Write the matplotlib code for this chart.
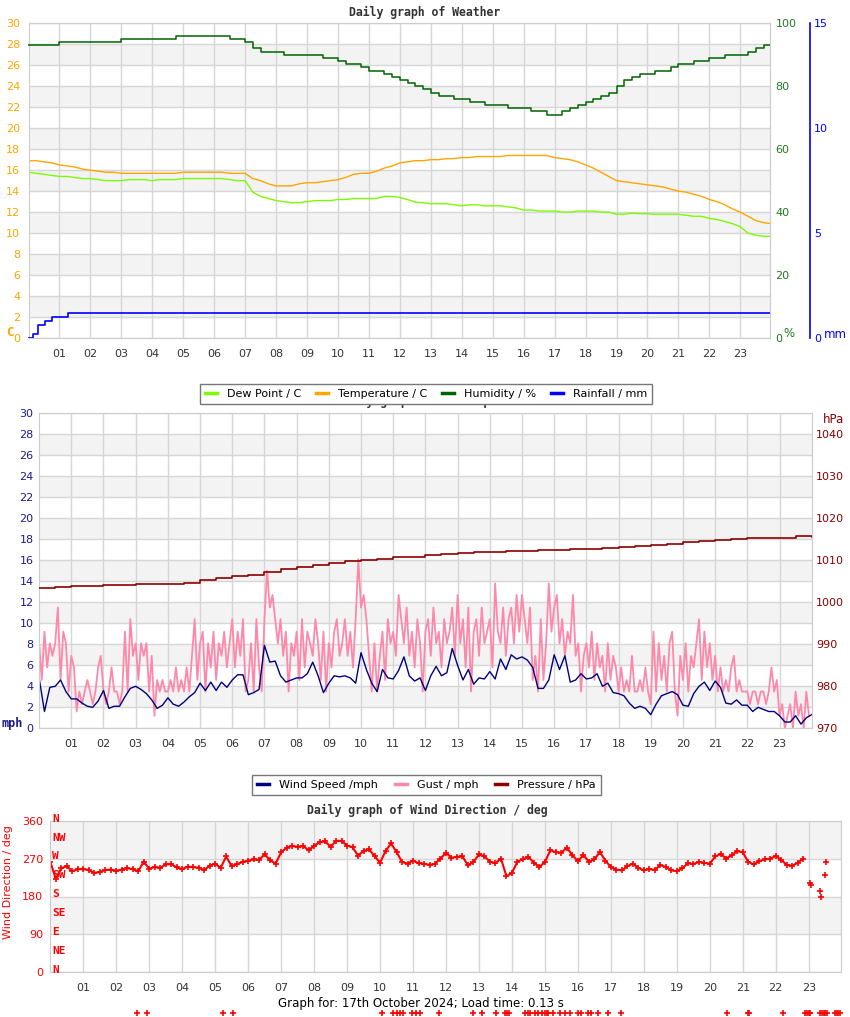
import numpy as np
import matplotlib
matplotlib.use('Agg')
import matplotlib.pyplot as plt
from matplotlib.lines import Line2D

# weather, one value every 15 minutes from 00:00
temperature = [
    16.9, 16.9, 16.8, 16.7, 16.5, 16.4, 16.3, 16.1, 16.0, 15.9, 15.8, 15.8,
    15.7, 15.7, 15.7, 15.7, 15.7, 15.7, 15.7, 15.7, 15.8, 15.8, 15.8, 15.8,
    15.8, 15.8, 15.7, 15.7, 15.7, 15.2, 15.0, 14.7, 14.5, 14.5, 14.5, 14.7,
    14.8, 14.8, 14.9, 15.0, 15.1, 15.3, 15.6, 15.7, 15.7, 15.9, 16.2, 16.4,
    16.7, 16.8, 16.9, 16.9, 17.0, 17.0, 17.1, 17.1, 17.2, 17.2, 17.3, 17.3,
    17.3, 17.3, 17.4, 17.4, 17.4, 17.4, 17.4, 17.4, 17.2, 17.1, 17.0, 16.8,
    16.5, 16.2, 15.8, 15.4, 15.0, 14.9, 14.8, 14.7, 14.6, 14.5, 14.4, 14.2,
    14.0, 13.9, 13.7, 13.5, 13.2, 13.0, 12.7, 12.3, 12.0, 11.6, 11.2, 11.0,
    10.9]
dew_point = [
    15.8, 15.7, 15.6, 15.5, 15.4, 15.4, 15.3, 15.2, 15.2, 15.1, 15.0, 15.0,
    15.0, 15.1, 15.1, 15.1, 15.0, 15.1, 15.1, 15.1, 15.2, 15.2, 15.2, 15.2,
    15.2, 15.2, 15.1, 15.0, 15.0, 13.9, 13.5, 13.3, 13.1, 13.0, 12.9, 12.9,
    13.0, 13.1, 13.1, 13.1, 13.2, 13.2, 13.3, 13.3, 13.3, 13.3, 13.5, 13.5,
    13.4, 13.2, 12.95, 12.9, 12.8, 12.8, 12.8, 12.7, 12.6, 12.7, 12.7, 12.6,
    12.6, 12.6, 12.5, 12.4, 12.2, 12.2, 12.1, 12.1, 12.1, 12.0, 12.0, 12.1,
    12.1, 12.1, 12.0, 12.0, 11.8, 11.8, 11.9, 11.85, 11.85, 11.8, 11.8, 11.8,
    11.8, 11.7, 11.6, 11.6, 11.4, 11.3, 11.1, 10.9, 10.6, 10.0, 9.8, 9.7,
    9.7]
humidity = [
    93, 93, 93, 93, 94, 94, 94, 94, 94, 94, 94, 94,
    95, 95, 95, 95, 95, 95, 95, 96, 96, 96, 96, 96,
    96, 96, 95, 95, 94, 92, 91, 91, 91, 90, 90, 90,
    90, 90, 89, 89, 88, 87, 87, 86, 85, 85, 84, 83,
    82, 81, 80, 79, 78, 77, 77, 76, 76, 75, 75, 74,
    74, 74, 73, 73, 73, 72, 72, 71, 71, 72, 73, 74,
    75, 76, 77, 78, 80, 82, 83, 84, 84, 85, 85, 86,
    87, 87, 88, 88, 89, 89, 90, 90, 90, 91, 92, 93,
    92]
rain_hours = [0.0, 0.13, 0.30, 0.52, 0.77, 1.27, 23.96]
rain_mm = [0.0, 0.2, 0.6, 0.8, 1.0, 1.2, 1.2]

# wind speed every 10 minutes (mph)
wind_speed = [
    4.8, 1.6, 3.9, 4.0, 4.6, 3.5,
    2.8, 2.8, 2.4, 2.1, 2.0, 2.6,
    3.6, 1.9, 2.1, 2.1, 3.0, 3.8,
    4.0, 3.7, 3.3, 2.7, 1.9, 2.2,
    2.9, 2.3, 2.1, 2.5, 3.0, 3.4,
    4.3, 3.6, 4.4, 3.6, 4.4, 3.9,
    4.6, 5.1, 5.1, 3.2, 3.4, 3.7,
    7.9, 6.3, 6.4, 5.0, 4.4, 4.6,
    4.8, 4.8, 5.2, 6.3, 5.0, 3.4,
    4.3, 5.0, 4.9, 5.0, 4.8, 4.3,
    7.2, 5.6, 4.3, 3.5, 5.6, 4.8,
    4.7, 5.5, 6.8, 5.0, 4.5, 4.8,
    3.6, 5.0, 5.9, 5.0, 5.3, 7.6,
    6.0, 4.6, 5.6, 4.2, 4.8, 4.7,
    5.4, 4.7, 6.6, 5.6, 7.0, 6.6,
    6.8, 6.5, 5.8, 3.8, 3.8, 4.6,
    7.0, 5.6, 6.9, 4.4, 4.6, 5.2,
    4.7, 4.8, 5.2, 4.0, 4.3, 3.4,
    3.3, 3.1, 2.4, 1.9, 2.1, 1.9,
    1.3, 2.3, 3.1, 3.3, 3.5, 3.2,
    2.2, 2.1, 3.3, 4.0, 4.4, 3.6,
    4.5, 3.9, 2.4, 2.3, 2.7, 2.2,
    2.2, 1.6, 2.0, 1.8, 1.6, 1.6,
    1.2, 0.6, 0.6, 1.2, 0.4, 1.0,
    1.3]
# gust every 5 minutes (mph)
gust = [
    8.1, 4.6, 9.2, 5.8, 8.1, 6.9, 8.1, 11.5, 4.6, 9.2, 8.1, 3.5,
    6.9, 5.8, 1.6, 3.5, 2.3, 3.5, 4.6, 3.5, 2.3, 3.5, 5.8, 6.9,
    3.5, 2.3, 3.5, 5.8, 3.5, 3.5, 2.3, 3.5, 9.2, 3.5, 10.4, 6.9,
    8.1, 4.6, 8.1, 6.9, 8.1, 3.5, 6.9, 1.2, 4.6, 3.5, 4.6, 3.5,
    3.5, 4.6, 3.5, 5.8, 3.5, 4.6, 3.5, 5.8, 3.5, 6.9, 10.4, 4.6,
    8.1, 9.2, 3.5, 8.1, 5.8, 9.2, 4.6, 8.1, 6.9, 9.2, 5.8, 8.1,
    10.4, 5.8, 9.2, 6.9, 10.4, 3.5, 4.6, 8.1, 3.5, 10.4, 5.8, 3.5,
    10.4, 15.0, 11.5, 12.7, 10.4, 8.1, 10.4, 6.9, 9.2, 3.5, 8.1, 6.9,
    9.2, 4.6, 10.4, 5.8, 9.2, 8.1, 6.9, 10.4, 8.1, 4.6, 9.2, 3.5,
    8.1, 5.8, 9.2, 10.4, 6.9, 8.1, 10.4, 6.9, 9.2, 5.8, 10.4, 16.1,
    11.5, 12.7, 10.4, 6.9, 3.5, 8.1, 3.5, 6.9, 9.2, 4.6, 10.4, 8.1,
    9.2, 6.9, 12.7, 10.4, 8.1, 11.5, 6.9, 9.2, 5.8, 10.4, 8.1, 3.5,
    9.2, 10.4, 6.9, 11.5, 8.1, 9.2, 5.8, 10.4, 8.1, 9.2, 11.5, 6.9,
    12.7, 8.1, 10.4, 5.8, 11.5, 3.5, 9.2, 10.4, 6.9, 11.5, 8.1, 9.2,
    10.4, 5.8, 13.8, 9.2, 8.1, 11.5, 6.9, 10.4, 11.5, 8.1, 12.7, 9.2,
    12.7, 10.4, 8.1, 11.5, 4.6, 6.9, 3.5, 10.4, 4.6, 8.1, 13.8, 9.2,
    11.5, 12.7, 8.1, 10.4, 6.9, 9.2, 8.1, 12.7, 6.9, 8.1, 3.5, 6.9,
    8.1, 5.8, 9.2, 4.6, 8.1, 5.8, 6.9, 3.5, 8.1, 4.6, 6.9, 5.8,
    3.5, 5.8, 3.5, 4.6, 3.5, 6.9, 3.5, 3.5, 4.6, 3.5, 5.8, 3.5,
    2.3, 9.2, 3.5, 8.1, 4.6, 6.9, 3.5, 8.1, 9.2, 3.5, 1.2, 6.9,
    4.6, 8.1, 3.5, 6.9, 5.8, 8.1, 10.4, 4.6, 9.2, 5.8, 8.1, 4.6,
    6.9, 3.5, 5.8, 3.5, 4.6, 3.5, 5.8, 6.9, 3.5, 4.6, 3.5, 3.5,
    3.5, 2.3, 3.5, 3.5, 2.3, 3.5, 3.5, 2.3, 3.5, 5.8, 3.5, 4.6,
    1.2, 2.3, 0.0, 1.2, 2.3, 0.0, 3.5, 1.2, 2.3, 0.0, 3.5, 1.2]
# pressure every 30 minutes (hPa)
pressure = [
    1003.5, 1003.7, 1003.9, 1004.0, 1004.1, 1004.2, 1004.3, 1004.3,
    1004.3, 1004.5, 1005.2, 1005.8, 1006.2, 1006.6, 1007.2, 1007.9,
    1008.5, 1009.0, 1009.4, 1009.8, 1010.1, 1010.4, 1010.7, 1010.9,
    1011.2, 1011.5, 1011.8, 1011.9, 1012.0, 1012.1, 1012.3, 1012.4,
    1012.5, 1012.6, 1012.7, 1012.9, 1013.1, 1013.4, 1013.7, 1014.0,
    1014.3, 1014.6, 1014.8, 1015.1, 1015.3, 1015.4, 1015.4, 1015.7,
    1015.6]

# wind direction every 10 minutes (deg), None = no reading
wind_dir = [
    262, 222, 247, 252, 240, 245,
    245, 243, 236, 238, 243, 244,
    241, 244, 247, 245, 240, 263,
    246, 250, 248, 256, 257, 249,
    245, 251, 250, 248, 243, 253,
    258, 248, 275, 252, 257, 262,
    265, 268, 267, 280, 266, 258,
    285, 296, 300, 298, 300, 290,
    300, 309, 311, 298, 312, 312,
    301, 297, 277, 288, 292, 276,
    260, 288, 306, 286, 262, 258,
    265, 259, 258, 255, 258, 270,
    284, 272, 274, 275, 254, 262,
    280, 275, 263, 259, 270, 228,
    236, 263, 268, 274, 260, 250,
    262, 290, 285, 284, 296, 278,
    264, 278, 263, 268, 286, 265,
    250, 244, 242, 252, 258, 248,
    242, 245, 243, 255, 250, 242,
    240, 247, 259, 257, 262, 260,
    258, 275, 281, 270, 278, 288,
    285, 262, 256, 264, 268, 270,
    276, 267, 255, 253, 260, 270,
    None, None, None, None, None, None]
stray_hours = [23.04, 23.06, 23.34, 23.37, 23.50, 23.53]
stray_dir = [212, 207, 192, 180, 231, 261]
calm_hours = [2.62, 2.92, 5.25, 5.55, 10.05, 10.4, 10.5, 10.6, 10.7, 10.96,
              11.1, 11.21, 11.79, 12.83, 13.1, 13.52, 13.8, 13.85, 13.9, 14.4,
              14.5, 14.55, 14.7, 14.8, 14.9, 15.0, 15.05, 15.1, 15.25, 15.45,
              15.6, 15.75, 16.0, 16.1, 16.3, 16.4, 16.6, 16.9, 17.3, 20.51,
              21.16, 21.2, 22.23, 22.9, 22.95, 23.0, 23.04, 23.35, 23.4, 23.45,
              23.5, 23.55, 23.8, 23.85, 23.9, 23.95]
compass = ['N', 'NW', 'W', 'SW', 'S', 'SE', 'E', 'NE', 'N']
hour_labels = ['%02d' % h for h in range(1, 24)]

W, H = 850, 1017
MONO = 'DejaVu Sans Mono'


def place(l, t, r, b):
    return [l / W, 1 - b / H, (r - l) / W, (b - t) / H]


def base(ax, xmax, top, step, bands, ycolor, ypad):
    ax.set_xlim(0, xmax)
    ax.set_ylim(0, top)
    for lo, hi in bands:
        ax.axhspan(lo, hi, color='#f3f3f3', lw=0, zorder=0)
    ax.set_xticks(range(1, 24))
    ax.set_xticklabels(hour_labels)
    ax.set_yticks(np.arange(0, top + step / 2, step))
    ax.grid(True, color='#d6d6d6', lw=1)
    ax.set_axisbelow(True)
    ax.tick_params(axis='x', length=0, labelsize=8, colors='#333333', pad=8)
    ax.tick_params(axis='y', length=0, labelsize=8, colors=ycolor, pad=ypad)
    for s in ax.spines.values():
        s.set_color('#cccccc')


def twin(ax, color, pad):
    t = ax.twinx()
    for side in ['top', 'left', 'bottom']:
        t.spines[side].set_visible(False)
    t.spines['right'].set_color('#cccccc')
    t.tick_params(length=0, labelsize=8, colors=color, pad=pad)
    return t


fig = plt.figure(figsize=(W / 100, H / 100), dpi=100)
grey_bands = [(lo, lo + 2) for lo in range(2, 30, 4)]

# ---------- chart 1: weather ----------
ax1 = fig.add_axes(place(28.5, 23.3, 770, 338))
base(ax1, 23.96, 30, 2, grey_bands, '#ffa500', 6)
t15 = np.arange(len(temperature)) * 0.25
ax1.plot(t15, dew_point, color='#7cfc00', lw=1)
ax1.plot(t15, temperature, color='#ffa500', lw=1)

axh = twin(ax1, '#1f7a1f', 4)
axh.set_ylim(0, 100)
axh.set_yticks(range(0, 101, 20))
axh.step(t15, humidity, where='post', color='#006400', lw=1.1)

axr = twin(ax1, 'blue', 3)
axr.spines['right'].set_position(('axes', (810 - 28.5) / (770 - 28.5)))
axr.spines['right'].set_color('blue')
axr.spines['right'].set_linewidth(1.2)
axr.set_ylim(0, 15)
axr.set_yticks([0, 5, 10, 15])
axr.step(rain_hours, rain_mm, where='post', color='blue', lw=1.2)

fig.text(425 / W, 1 - 12 / H, 'Daily graph of Weather', family=MONO,
         weight='bold', size=8.3, color='#333333', ha='center', va='center')
fig.text(10 / W, 1 - 332 / H, 'C', family=MONO, weight='bold', size=9,
         color='#ffa500', ha='center', va='center')
fig.text(789 / W, 1 - 333 / H, '%', size=8.5, color='#1f7a1f', ha='center', va='center')
fig.text(835 / W, 1 - 334 / H, 'mm', size=8.5, color='blue', ha='center', va='center')

# ---------- chart 2: wind + pressure ----------
ax2 = fig.add_axes(place(39.1, 413.3, 811.7, 728.3))
base(ax2, 24.0, 30, 2, grey_bands, '#1a1a8c', 4)
ax2.plot(np.arange(len(gust)) / 12, gust, color='#ff88aa', lw=1.3)
ax2.plot(np.arange(len(wind_speed)) / 6, wind_speed, color='#000080', lw=1)

axp = twin(ax2, '#8b0000', 3)
axp.set_ylim(970, 1045)
axp.set_yticks(range(970, 1041, 10))
axp.step(np.arange(len(pressure)) * 0.5, pressure, where='post', color='#8b0000', lw=1.2)

# title of the wind chart sits mostly behind the weather legend, as in the original
fig.text(425 / W, 1 - 401 / H, 'Daily graph of Wind Speed', family=MONO,
         weight='bold', size=8.3, color='#333333', ha='center', va='center')
fig.text(12 / W, 1 - 723 / H, 'mph', family=MONO, weight='bold', size=8.5,
         color='#1a1a8c', ha='center', va='center')
fig.text(833 / W, 1 - 419 / H, 'hPa', size=8.5, color='#8b0000', ha='center', va='center')

# ---------- chart 3: wind direction ----------
ax3 = fig.add_axes(place(50.3, 820.7, 840.7, 972.3))
base(ax3, 23.97, 360, 90, [(90, 180), (270, 360)], 'red', 5)
wd = np.array(wind_dir, dtype=float)
ax3.plot(np.arange(len(wd)) / 6, wd, color='red', lw=1.5, marker='+', ms=4.5, mew=1.2)
ax3.plot(stray_hours, stray_dir, ls='none', marker='+', color='red', ms=4, mew=1.2)
ax3.plot(calm_hours, [-97] * len(calm_hours), ls='none', marker='+', color='red',
         ms=4, mew=1.2, clip_on=False)
for deg, lab in zip(range(360, -1, -45), compass):
    ax3.text(0.05, deg + 5, lab, family=MONO, weight='bold', size=8,
             color='red', ha='left', va='center')
fig.text(8 / W, 1 - 882 / H, 'Wind Direction / deg', rotation=90, size=8,
         color='red', ha='center', va='center')
fig.text(427 / W, 1 - 810 / H, 'Daily graph of Wind Direction / deg', family=MONO,
         weight='bold', size=8.3, color='#333333', ha='center', va='center')
fig.text(421 / W, 1 - 1004 / H, 'Graph for: 17th October 2024; Load time: 0.13 s',
         size=8.5, color='black', ha='center', va='center')


# ---------- legends ----------
def legend(items, x, y, gap):
    handles = [Line2D([], [], color=c, lw=2.5) for c, _ in items]
    lg = fig.legend(handles, [t for _, t in items], loc='center',
                    bbox_to_anchor=(x / W, 1 - y / H), ncol=len(items),
                    fontsize=8, frameon=True, fancybox=False, framealpha=1,
                    edgecolor='#777777', handlelength=1.1, handletextpad=0.9,
                    columnspacing=gap, borderpad=0.45)
    lg.get_frame().set_linewidth(1)
    lg.set_zorder(10)


legend([('#7cfc00', 'Dew Point / C'), ('#ffa500', 'Temperature / C'),
        ('#006400', 'Humidity / %'), ('blue', 'Rainfall / mm')], 426, 394, 1.3)
legend([('#000080', 'Wind Speed /mph'), ('#ff88aa', 'Gust / mph'),
        ('#8b0000', 'Pressure / hPa')], 426.5, 785, 1.5)

fig.savefig('out.png', dpi=100)
